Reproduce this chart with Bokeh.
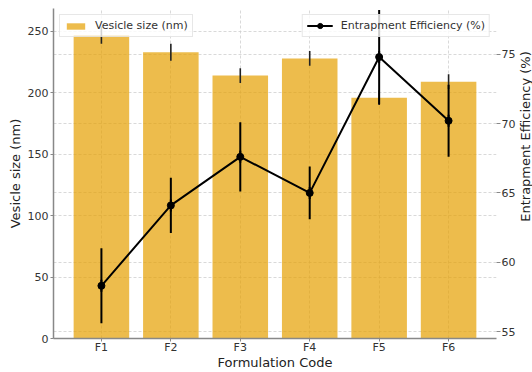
import math
from bokeh.plotting import figure
from bokeh.layouts import row
from bokeh.models import Range1d, LinearAxis, Grid, FixedTicker, Legend, LegendItem, Label
from bokeh.embed import file_html
from bokeh.resources import INLINE

categories = ["F1", "F2", "F3", "F4", "F5", "F6"]
vesicle_size = [247, 233, 214, 228, 196, 209]
vesicle_err = [7, 7, 6, 6, 6, 6]
entrapment = [58.3, 64.1, 67.6, 65.0, 74.8, 70.2]
entrapment_err = [2.7, 2.0, 2.5, 1.9, 3.4, 2.6]
left_ticks = [0, 50, 100, 150, 200, 250]
right_ticks = [55, 60, 65, 70, 75]

FONT = "DejaVu Sans"
W, H = 518, 372          # main chart
W2 = 14                  # strip holding the right axis title
ML, MR, MT, MB = 53, 19, 8, 32
x = list(range(len(categories)))

p = figure(width=W, height=H, output_backend="svg", toolbar_location=None,
           x_range=Range1d(-0.69, len(categories) - 1 + 0.69),
           y_range=Range1d(0, 268.6),
           min_border_left=ML, min_border_right=MR, min_border_top=MT, min_border_bottom=MB)
p.outline_line_color = None
p.background_fill_color = "white"
p.border_fill_color = "white"
p.extra_y_ranges = {"ee": Range1d(54.5, 78.3)}

# grids
grid_kw = dict(grid_line_color="#cfcfcf", grid_line_dash="3 2", grid_line_width=0.8)
p.xgrid.ticker = FixedTicker(ticks=x)
p.ygrid.ticker = FixedTicker(ticks=left_ticks)
for g in [p.xgrid[0], p.ygrid[0]]:
    for k, v in grid_kw.items():
        setattr(g, k, v)
g2 = Grid(dimension=1, ticker=FixedTicker(ticks=right_ticks), y_range_name="ee", **grid_kw)
p.add_layout(g2)

# bars
bars = p.vbar(x=x, top=vesicle_size, width=0.8, fill_color="#E69F00", fill_alpha=0.7,
              line_color=None)
p.segment(x0=x, x1=x,
          y0=[v - e for v, e in zip(vesicle_size, vesicle_err)],
          y1=[v + e for v, e in zip(vesicle_size, vesicle_err)],
          line_color="#222222", line_width=1.6)

# entrapment efficiency
ln = p.line(x, entrapment, y_range_name="ee", line_color="black", line_width=2)
p.segment(x0=x, x1=x,
          y0=[v - e for v, e in zip(entrapment, entrapment_err)],
          y1=[v + e for v, e in zip(entrapment, entrapment_err)],
          y_range_name="ee", line_color="black", line_width=2)
bar_mark = p.scatter(x, entrapment, y_range_name="ee", marker="dash", angle=1.5708,
                     size=12, line_color="black", line_width=2)
pts = p.scatter(x, entrapment, y_range_name="ee", size=7, color="black")

# axes
p.xaxis.ticker = FixedTicker(ticks=x)
p.xaxis.major_label_overrides = {i: c for i, c in enumerate(categories)}
p.xaxis.axis_label = "Formulation Code"
p.yaxis.ticker = FixedTicker(ticks=left_ticks)
p.yaxis.axis_label = "Vesicle size (nm)"

ax2 = LinearAxis(y_range_name="ee", ticker=FixedTicker(ticks=right_ticks))
p.add_layout(ax2, "right")

for ax in [p.xaxis[0], p.yaxis[0], ax2]:
    ax.major_label_text_font = FONT
    ax.major_label_text_font_size = "11px"
    ax.major_label_text_color = "#333333"
    ax.axis_label_text_font = FONT
    ax.axis_label_text_font_size = "13px"
    ax.axis_label_text_font_style = "normal"
    ax.axis_label_text_color = "#222222"
    ax.minor_tick_line_color = None
    ax.major_tick_line_color = "#888888"
    ax.major_tick_in = 0
    ax.major_tick_out = 3
    ax.axis_line_color = "#888888"
    ax.axis_line_width = 1.5
    ax.major_label_standoff = 2
    ax.axis_label_standoff = 2
p.xaxis.major_label_standoff = -1
p.xaxis.axis_label_standoff = -2
ax2.axis_line_color = None
ax2.major_tick_out = 4
ax2.major_label_standoff = 1

# legends
def style_legend(lg):
    lg.label_text_font = FONT
    lg.label_text_font_size = "11px"
    lg.label_text_color = "#333333"
    lg.border_line_color = "#d0d0d0"
    lg.border_line_width = 1
    lg.background_fill_color = "white"
    lg.background_fill_alpha = 0.8
    lg.padding = 4
    lg.margin = 6
    lg.spacing = 0
    lg.label_height = 12
    lg.label_standoff = 8

leg1 = Legend(items=[LegendItem(label="Vesicle size (nm)", renderers=[bars])],
              location="top_left")
style_legend(leg1)
leg1.glyph_width = 23
leg1.glyph_height = 8
p.add_layout(leg1)

leg2 = Legend(items=[LegendItem(label="Entrapment Efficiency (%)", renderers=[ln, bar_mark, pts])],
              location="top_right")
style_legend(leg2)
leg2.glyph_width = 26
leg2.glyph_height = 13
p.add_layout(leg2)

# narrow strip carrying the right-hand axis title, reading bottom to top
p2 = figure(width=W2, height=H, output_backend="svg", toolbar_location=None,
            x_range=Range1d(0, 1), y_range=Range1d(0, 1),
            x_axis_location=None, y_axis_location=None, min_border=0)
p2.outline_line_color = None
p2.grid.visible = False
p2.border_fill_color = "white"
p2.add_layout(Label(x=W2 / 2, y=H - 170, x_units="screen", y_units="screen",
                    text="Entrapment Efficiency (%)", angle=math.pi / 2,
                    text_align="center", text_baseline="middle",
                    text_font=FONT, text_font_size="13px", text_color="#222222"))

layout = row(p, p2, spacing=0)
open("out.html", "w").write(file_html(layout, INLINE))
